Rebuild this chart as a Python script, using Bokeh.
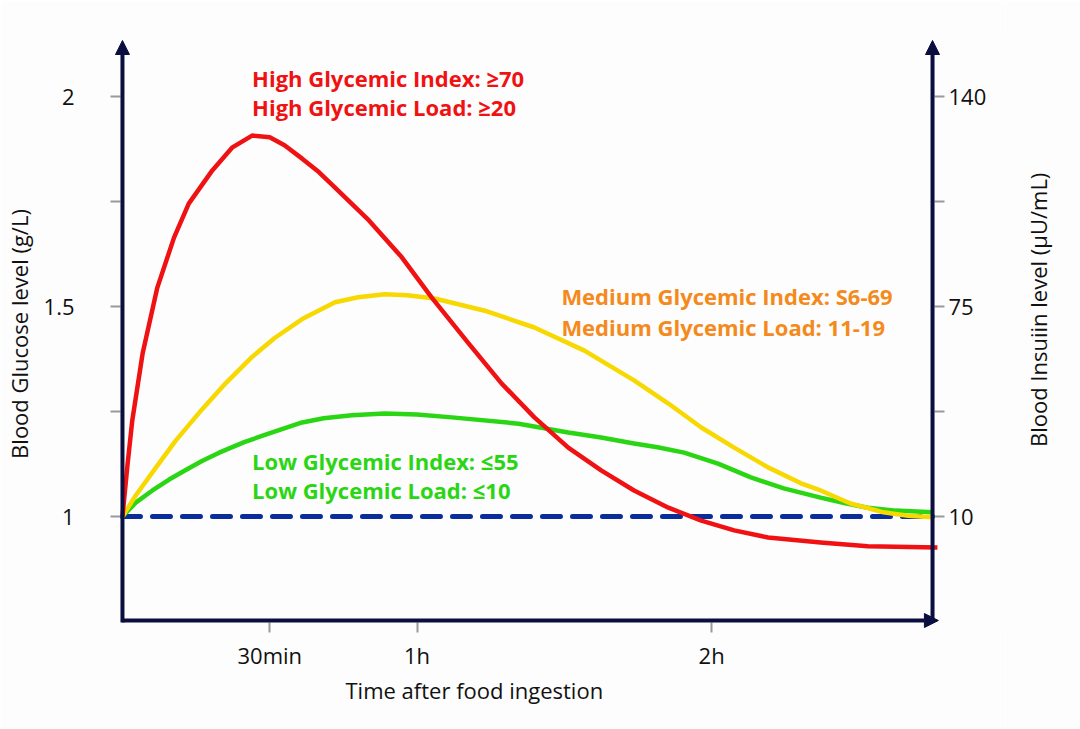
import math
from bokeh.plotting import figure
from bokeh.layouts import row
from bokeh.models import Range1d, LinearAxis, FixedTicker, Arrow, NormalHead, ColumnDataSource, Title
from bokeh.embed import file_html
from bokeh.resources import INLINE
from bokeh.core.properties import value

# ---- data (minutes after ingestion, blood glucose g/L) ----
high_t = [0, 1, 2, 4.1, 7.1, 10.5, 13.5, 18.3, 22.4, 26.4, 30, 33, 36.6, 40, 43.3, 50.2, 56.9, 63,
          70.5, 77.2, 83.9, 90.8, 97.5, 104.2, 111.2, 117.9, 124.6, 131.5, 142.2, 151.8, 166]
high_g = [1.0, 1.12, 1.229, 1.388, 1.545, 1.664, 1.745, 1.824, 1.879, 1.907, 1.903, 1.884, 1.852, 1.82,
          1.783, 1.705, 1.617, 1.521, 1.412, 1.317, 1.236, 1.164, 1.110, 1.062, 1.021, 0.990, 0.967,
          0.950, 0.938, 0.929, 0.926]

med_t = [0, 2.7, 6.1, 10.8, 16.2, 21, 26.4, 31, 36.6, 43.3, 48, 53.4, 58, 63.6, 73.8, 83.9, 94.1, 104.2,
         111.2, 117.9, 124.6, 131.5, 138.2, 142.2, 148.3, 155, 160, 165]
med_g = [1.0, 1.05, 1.105, 1.18, 1.255, 1.317, 1.38, 1.425, 1.47, 1.51, 1.522, 1.529, 1.527, 1.519,
         1.49, 1.45, 1.395, 1.324, 1.269, 1.212, 1.164, 1.117, 1.079, 1.062, 1.031, 1.010, 1.002, 0.998]

low_t = [0, 2.7, 6.1, 9.5, 12.8, 16.2, 19.7, 24.8, 29.9, 36.6, 41, 46.7, 53.4, 60, 67.1, 80.7, 90.8,
         97.5, 104.2, 109, 114.4, 121.3, 128, 134.7, 142.2, 147, 151.8, 157.5, 165]
low_g = [1.0, 1.033, 1.062, 1.088, 1.11, 1.132, 1.152, 1.177, 1.198, 1.224, 1.234, 1.241, 1.245, 1.243,
         1.236, 1.221, 1.200, 1.188, 1.174, 1.165, 1.152, 1.126, 1.093, 1.067, 1.045, 1.032, 1.021,
         1.014, 1.010]

baseline_t = [0, 165]
baseline_g = [1.0, 1.0]

x_ticks = [30, 60, 120]
x_labels = ["30min", "1h", "2h"]
glucose_ticks = [1, 1.5, 2]
glucose_minor = [1.25, 1.75]
glucose_labels = ["1", "1.5", "2"]
insulin_ticks = [10, 75, 140]
insulin_labels = ["10", "75", "140"]

x_title = "Time after food ingestion"
left_title = "Blood Glucose level (g/L)"
right_title = "Blood Insuiin level (\u03bcU/mL)"
high_text = ["High Glycemic Index: \u226570", "High Glycemic Load: \u226520"]
med_text = ["Medium Glycemic Index: S6-69", "Medium Glycemic Load: 11-19"]
low_text = ["Low Glycemic Index: \u226455", "Low Glycemic Load: \u226410"]

NAVY = "#0b0f3f"
RED = "#f01212"
YELLOW = "#f7d800"
GREEN = "#2ad614"
ORANGE = "#f58a1c"
BLUE = "#0a2d9c"
FONT = "Open Sans"
INK = "#111111"
BG = "#fdfdfd"

T_END = 165.0
PX_PER_MIN = 812 / T_END
PX_PER_G = 420.0
x_start, x_end = -12 / PX_PER_MIN, T_END + 12 / PX_PER_MIN
y_start, y_end = 1 - 116 / PX_PER_G, 1 + 481 / PX_PER_G
y_axis0 = 1 - 104 / PX_PER_G   # bottom axis line
y_tip = 1 + 476 / PX_PER_G     # arrow tips

MAIN_W = 1005
p = figure(width=MAIN_W, height=729, x_range=Range1d(x_start, x_end), y_range=Range1d(y_start, y_end),
           output_backend="svg", toolbar_location=None,
           min_border_left=108, min_border_right=MAIN_W - 944, min_border_top=35, min_border_bottom=97,
           background_fill_color=BG, border_fill_color=BG)
p.outline_line_color = None
p.xgrid.visible = False
p.ygrid.visible = False

def to_ins(g):
    return 10 + (g - 1) * 130

p.extra_y_ranges = {"ins": Range1d(to_ins(y_start), to_ins(y_end))}
right = LinearAxis(y_range_name="ins")
p.add_layout(right, "right")

def style_axis(ax, ticks, labels, minor, label):
    ax.ticker = FixedTicker(ticks=ticks, minor_ticks=minor)
    ax.major_label_overrides = {t: l for t, l in zip(ticks, labels)}
    ax.axis_line_color = None
    ax.major_tick_line_color = "#9a9a9a"
    ax.minor_tick_line_color = "#9a9a9a"
    ax.major_tick_line_width = 2
    ax.minor_tick_line_width = 2
    ax.major_tick_in = 10
    ax.minor_tick_in = 10
    ax.major_tick_out = 0
    ax.minor_tick_out = 0
    ax.major_label_text_font = FONT
    ax.major_label_text_font_size = "22px"
    ax.major_label_text_color = INK
    ax.axis_label = label
    ax.axis_label_text_font = FONT
    ax.axis_label_text_font_size = "22px"
    ax.axis_label_text_font_style = "normal"
    ax.axis_label_text_color = INK

left = p.yaxis[0]
style_axis(left, glucose_ticks, glucose_labels, glucose_minor, left_title)
left.major_label_standoff = 36
left.axis_label_standoff = 7

style_axis(right, insulin_ticks, insulin_labels, [to_ins(g) for g in glucose_minor], None)
right.major_label_standoff = 4

bottom = p.xaxis[0]
style_axis(bottom, x_ticks, x_labels, [], None)
bottom.major_label_standoff = 7

p.add_layout(Title(text=x_title, align="left", offset=235, standoff=0,
                   text_font=FONT, text_font_size="22px", text_font_style="normal",
                   text_color=INK), "below")

# axis lines with arrow heads
for xs, ys, xe, ye in [(0, y_axis0 - 2 / PX_PER_G, 0, y_tip),
                       (T_END, y_axis0 - 2 / PX_PER_G, T_END, y_tip),
                       (0, y_axis0, T_END + 1.2, y_axis0)]:
    p.add_layout(Arrow(x_start=xs, y_start=ys, x_end=xe, y_end=ye, line_color=NAVY, line_width=4,
                       end=NormalHead(size=14, fill_color=NAVY, line_color=NAVY, line_width=1)))

# curves
p.line(baseline_t, baseline_g, line_color=BLUE, line_width=5, line_dash="18 12", line_cap="round")
p.line(low_t, low_g, line_color=GREEN, line_width=4.5, line_join="round")
p.line(med_t, med_g, line_color=YELLOW, line_width=4.5, line_join="round")
p.line(high_t, high_g, line_color=RED, line_width=4.5, line_join="round")

# annotations
def add_text(xs, ys, texts, color):
    src = ColumnDataSource(dict(x=xs, y=ys, t=texts))
    p.text(x="x", y="y", text="t", source=src, text_color=color, text_font=value(FONT),
           text_font_size="22px", text_font_style="bold", text_align="left", text_baseline="middle")

add_text([26.4, 26.4], [2.045, 1.976], high_text, RED)
add_text([89.4, 89.4], [1.524, 1.452], med_text, ORANGE)
add_text([26.4, 26.4], [1.131, 1.062], low_text, GREEN)

# right-hand title strip (insulin axis title, reading bottom-to-top)
SIDE_W = 1080 - MAIN_W
side = figure(width=SIDE_W, height=729, x_range=Range1d(0, SIDE_W), y_range=Range1d(0, 729),
              output_backend="svg", toolbar_location=None, min_border=0,
              background_fill_color=BG, border_fill_color=BG)
side.axis.visible = False
side.grid.visible = False
side.outline_line_color = None
side.text(x=[1037 - MAIN_W], y=[729 - 335], text=[right_title], angle=math.pi / 2,
          text_font=value(FONT), text_font_size="22px", text_color=INK,
          text_align="center", text_baseline="middle")

layout = row(p, side, spacing=0)
open("out.html", "w").write(file_html(layout, INLINE))
